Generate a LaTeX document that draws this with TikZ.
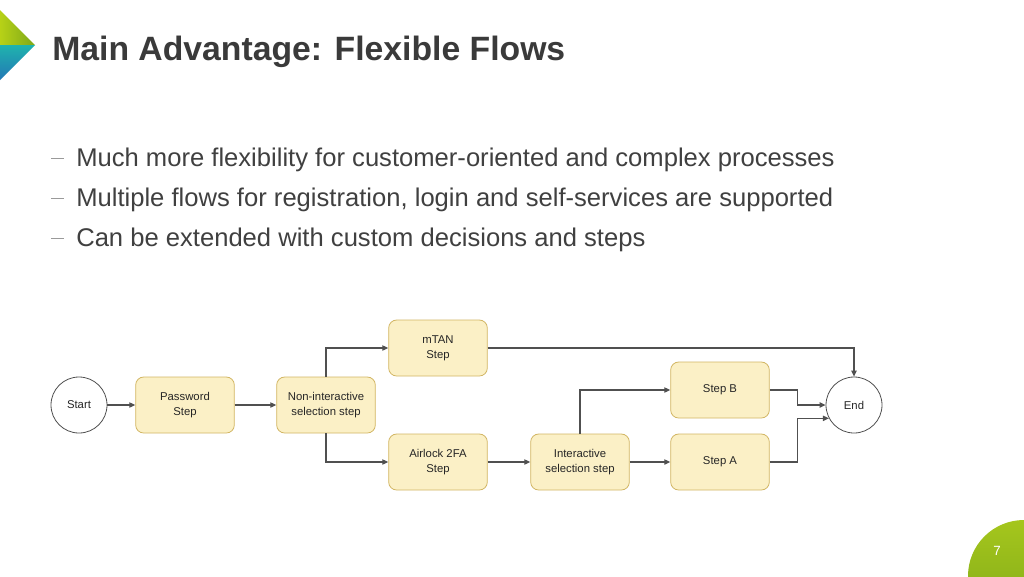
\documentclass[tikz,border=0pt]{standalone}
\usepackage{fontspec}
\setmainfont{Liberation Sans}
\usetikzlibrary{arrows.meta}
\definecolor{titlegray}{HTML}{3A3A3A}
\definecolor{textgray}{HTML}{404040}
\definecolor{dashgray}{HTML}{9A9A9A}
\definecolor{boxfill}{HTML}{FBF0C6}
\definecolor{boxline}{HTML}{D2B664}
\definecolor{linegray}{HTML}{505050}
\definecolor{limegreen}{HTML}{A5C61C}
\definecolor{darklime}{HTML}{7EA81A}
\definecolor{tealblue}{HTML}{1FB3AE}
\definecolor{deepblue}{HTML}{2378B5}
\tikzset{
	stepbox/.style={draw=boxline, fill=boxfill, rounded corners=6pt, line width=0.6pt,
		minimum width=74pt, minimum height=42pt, align=center,
		font=\fontsize{8.5}{11.2}\selectfont, text=black!85},
	roundstate/.style={draw=linegray, circle, fill=white, line width=0.6pt,
		minimum size=42pt, inner sep=0pt, font=\fontsize{8.5}{11.2}\selectfont, text=black!85},
	flowline/.style={draw=linegray, line width=0.85pt, -{Triangle[length=4.5pt,width=4pt]}},
	bullettext/.style={anchor=base west, inner sep=0pt, text=textgray, font=\fontsize{19.2}{23}\selectfont}
}
\begin{document}
\begin{tikzpicture}[x=0.75pt,y=-0.75pt]
	\useasboundingbox (0,0) rectangle (1024,576);
	\fill[white] (0,0) rectangle (1024,576);

	\shade[left color=limegreen!80!yellow, right color=darklime] (0,10) -- (35,45) -- (0,45) -- cycle;
	\shade[top color=tealblue, bottom color=deepblue] (0,45) -- (35,45) -- (0,80) -- cycle;
	\begin{scope}
		\clip (0,0) rectangle (1024,576);
		\shade[top color=limegreen, bottom color=darklime] (1024,576) circle (56);
	\end{scope}
	\node[text=white, font=\fontsize{10}{11}\selectfont] (pagenum) at (997,551) {7};

	\node[anchor=base west, inner sep=0pt, text=titlegray, font=\bfseries\fontsize{25.3}{29}\selectfont] (title) at (52,60) {Main Advantage: Flexible Flows};

	\foreach \ypos/\txt [count=\i] in {166/Much more flexibility for customer-oriented and complex processes,
		206/{Multiple flows for registration, login and self-services are supported},
		246/Can be extended with custom decisions and steps} {
		\draw[dashgray, line width=0.7pt] (51,\ypos-8) -- (64,\ypos-8);
		\node[bullettext] (bullet\i) at (76,\ypos) {\txt};
	}

	\node[roundstate] (start) at (79,405) {Start};
	\node[stepbox] (pwd) at (185,405) {Password\\Step};
	\node[stepbox] (nonint) at (326,405) {Non-interactive\\selection step};
	\node[stepbox] (mtan) at (438,348) {mTAN\\Step};
	\node[stepbox] (airlock) at (438,462) {Airlock 2FA\\Step};
	\node[stepbox] (inter) at (580,462) {Interactive\\selection step};
	\node[stepbox] (stepb) at (720,390) {Step B};
	\node[stepbox] (stepa) at (720,462) {Step A};
	\node[roundstate] (fin) at (854,405) {End};

	\draw[flowline] (start) -- (pwd);
	\draw[flowline] (pwd) -- (nonint);
	\draw[flowline] (nonint.north) |- (mtan.west);
	\draw[flowline] (nonint.south) |- (airlock.west);
	\draw[flowline] (mtan.east) -| (fin.north);
	\draw[flowline] (airlock) -- (inter);
	\draw[flowline] (inter.north) |- (stepb.west);
	\draw[flowline] (inter) -- (stepa);
	\draw[flowline] (stepb.east) -- ++(28,0) |- (fin.west);
	\draw[flowline] (stepa.east) -- ++(28,0) |- (fin.208);
\end{tikzpicture}
\end{document}
